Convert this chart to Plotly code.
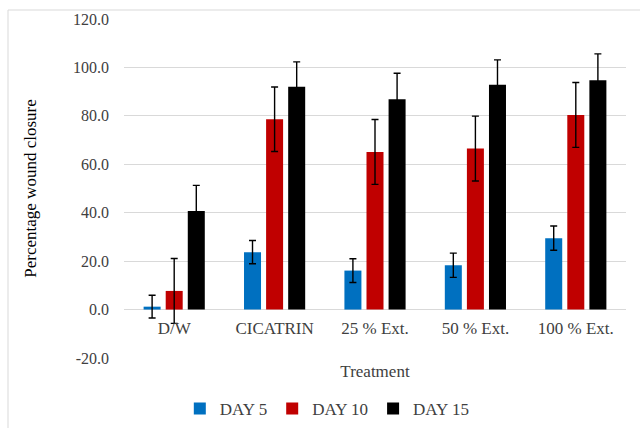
import plotly.graph_objects as go

categories = ["D/W", "CICATRIN", "25 % Ext.", "50 % Ext.", "100 % Ext."]
series_names = ["DAY 5", "DAY 10", "DAY 15"]
day5 = [1.2, 23.7, 16.1, 18.3, 29.5]
day10 = [7.7, 78.6, 65.1, 66.5, 80.4]
day15 = [40.7, 92.0, 86.9, 92.8, 94.7]
err5 = [4.7, 4.8, 4.9, 5.0, 5.0]
err10 = [13.4, 13.3, 13.4, 13.4, 13.4]
err15 = [10.6, 10.3, 10.7, 10.3, 10.9]
colors = ["#0070C0", "#C00000", "#000000"]
y_ticks = [-20, 0, 20, 40, 60, 80, 100, 120]

FONT = "Liberation Serif"

fig = go.Figure()
for name, vals, errs, col in zip(series_names, [day5, day10, day15], [err5, err10, err15], colors):
    fig.add_trace(go.Bar(
        x=categories, y=vals, name=name,
        marker=dict(color=col, line=dict(width=0)),
        error_y=dict(type="data", array=errs, visible=True, color="#000000",
                     thickness=1.4, width=3.5),
    ))

fig.update_layout(
    width=640, height=428,
    margin=dict(l=124, r=14, t=19, b=70, autoexpand=False),
    paper_bgcolor="white", plot_bgcolor="white",
    barmode="group", bargap=0.34, bargroupgap=0.23,
    font=dict(family=FONT, size=16, color="#404040"),
    showlegend=True,
    legend=dict(orientation="h", x=0.405, xanchor="center", y=-0.15, yanchor="middle",
                font=dict(family=FONT, size=17, color="#404040"),
                itemwidth=30, traceorder="normal"),
    xaxis=dict(anchor="free", position=(0 - (-20)) / 140, showline=False, ticks="",
               automargin=False, ticklabelstandoff=6,
               tickfont=dict(family=FONT, size=17, color="#404040"),
               title=dict(text="Treatment", font=dict(family=FONT, size=17, color="#404040"),
                          standoff=28)),
    yaxis=dict(range=[-20, 120], tickvals=y_ticks,
               ticktext=[f"{v:.1f}" for v in y_ticks],
               showgrid=True, gridcolor="#D9D9D9", gridwidth=1,
               zeroline=True, zerolinecolor="#D9D9D9", zerolinewidth=1,
               showline=False, ticks="", ticklabelstandoff=14, automargin=False,
               tickfont=dict(family=FONT, size=16, color="#404040"),
               title=dict(text="Percentage wound closure",
                          font=dict(family=FONT, size=17, color="#000000"), standoff=32)),
    shapes=[dict(type="rect", xref="paper", yref="paper",
                 x0=(8 - 124) / 502, x1=1.2, y0=-0.5, y1=(358 - 10) / 339,
                 line=dict(color="#D9D9D9", width=1), fillcolor="rgba(0,0,0,0)", layer="below")],
)

fig.write_html("out.html", config={"displayModeBar": False},
               post_script="document.body.style.margin='0';")
